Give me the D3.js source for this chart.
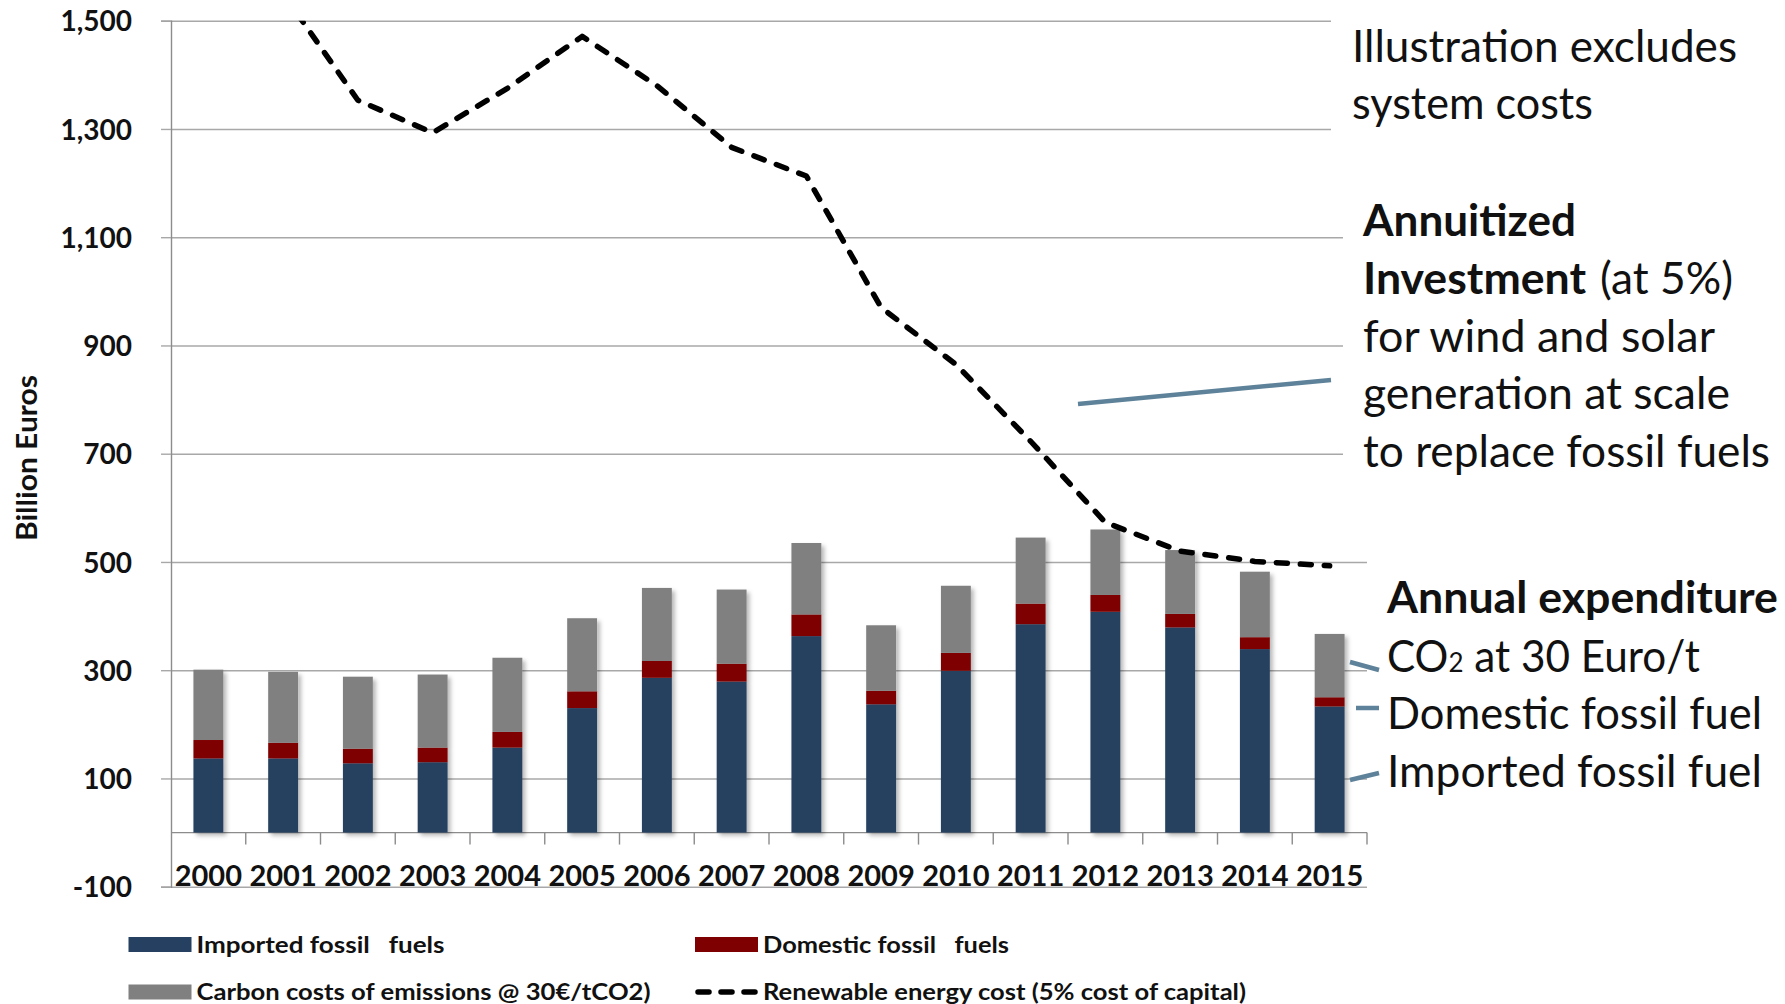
<!DOCTYPE html>
<html>
<head>
<meta charset="utf-8">
<script src="https://cdn.jsdelivr.net/npm/d3@7"></script>
<style>
  html, body { margin: 0; padding: 0; background: #fff; }
  svg { display: block; }
  text { font-family: Lato, "Open Sans", sans-serif; }
</style>
</head>
<body>
<svg id="chart" width="1785" height="1004"></svg>
<script>
// ---------------- DATA ----------------
const years = ["2000","2001","2002","2003","2004","2005","2006","2007","2008","2009","2010","2011","2012","2013","2014","2015"];
const importedFossil = [137,137,128,130,157,230,286,279,363,237,299,385,408,379,339,233];
const domesticFossil = [34,29,27,27,29,31,31,33,40,25,33,38,31,25,22,17];
const carbonCosts = [130,131,133,135,137,135,135,137,132,121,124,122,121,118,121,117];
const renewableCost = [null,1550,1353,1293,1375,1471,1380,1266,1213,970,865,723,573,520,501,493];
const yTickValues = [-100,100,300,500,700,900,1100,1300,1500];
const yTickLabels = ["-100","100","300","500","700","900","1,100","1,300","1,500"];
const seriesNames = ["Imported fossil   fuels","Domestic fossil   fuels","Carbon costs of emissions @ 30€/tCO2)","Renewable energy cost (5% cost of capital)"];
const yAxisTitle = "Billion Euros";

// ---------------- LAYOUT ----------------
const svg = d3.select("#chart");
const pLeft = 171, pRight = 1367, pTop = 20.7, pBottom = 886.7;
const colors = { imported: "#264061", domestic: "#7F0000", carbon: "#808080" };
const gridColor = "#A8A8A8", axisColor = "#8C8C8C", leaderColor = "#5E8299";

const x = d3.scaleBand().domain(years).range([pLeft, pRight]).paddingInner(0.6).paddingOuter(0.3);
const y = d3.scaleLinear().domain([-100, 1500]).range([pBottom, pTop]);

const defs = svg.append("defs");
const f = defs.append("filter").attr("id","shadow").attr("x","-30%").attr("y","-10%").attr("width","160%").attr("height","130%");
f.append("feDropShadow").attr("dx",3).attr("dy",3).attr("stdDeviation",2).attr("flood-color","#000").attr("flood-opacity",0.28);
defs.append("clipPath").attr("id","plotclip").append("rect")
  .attr("x", pLeft).attr("y", y(1500)).attr("width", pRight - pLeft).attr("height", pBottom - y(1500));

// gridlines
svg.append("g")
  .attr("transform", `translate(${pLeft},0)`)
  .call(d3.axisLeft(y).tickValues(yTickValues).tickSize(-(pRight - pLeft)).tickFormat(""))
  .call(g => g.select(".domain").remove())
  .call(g => g.selectAll("line").attr("stroke", gridColor).attr("stroke-width", 1.4));

// y axis with ticks and labels
svg.append("g")
  .attr("transform", `translate(${pLeft},0)`)
  .call(d3.axisLeft(y).tickValues(yTickValues).tickSize(10).tickPadding(29)
        .tickFormat((d, i) => yTickLabels[i]))
  .call(g => g.select(".domain").attr("stroke", axisColor).attr("stroke-width", 1.4))
  .call(g => g.selectAll("line").attr("stroke", gridColor).attr("stroke-width", 1.4))
  .call(g => g.selectAll("text").attr("fill", "#111").style("font-size", "28px")
        .style("font-weight", 700).attr("dy", "0.36em"));

// x axis at 0
const xAxisG = svg.append("g").attr("transform", `translate(0,${y(0)})`)
  .call(d3.axisBottom(x).tickSize(0).tickPadding(33))
  .call(g => g.select(".domain").attr("stroke", axisColor).attr("stroke-width", 1.4).attr("d", `M${pLeft},0H${pRight}`))
  .call(g => g.selectAll("text").attr("fill", "#111").style("font-size", "29px").style("font-weight", 700));
// category boundary ticks
const step = x.step();
const boundaries = years.map(d => x(d) - (step - x.bandwidth()) / 2).slice(1).concat([pRight]);
xAxisG.selectAll("line.bound").data(boundaries).join("line")
  .attr("class","bound").attr("x1", d => d).attr("x2", d => d).attr("y1", 0).attr("y2", 12)
  .attr("stroke", axisColor).attr("stroke-width", 1.4);

// stacked bars
const rows = years.map((yr, i) => ({ year: yr, imported: importedFossil[i], domestic: domesticFossil[i], carbon: carbonCosts[i] }));
const keys = ["imported","domestic","carbon"];
const stacked = d3.stack().keys(keys)(rows);
const barGroups = svg.append("g").selectAll("g.bar").data(rows).join("g")
  .attr("class","bar").attr("filter","url(#shadow)");
barGroups.selectAll("rect").data((d, i) => stacked.map(s => ({ key: s.key, v: s[i], year: d.year })))
  .join("rect")
  .attr("x", d => x(d.year)).attr("width", x.bandwidth())
  .attr("y", d => y(d.v[1])).attr("height", d => y(d.v[0]) - y(d.v[1]))
  .attr("fill", d => colors[d.key]);

// renewable line
const lineData = years.map((yr, i) => ({ year: yr, v: renewableCost[i] }));
svg.append("path").datum(lineData)
  .attr("clip-path","url(#plotclip)")
  .attr("fill","none").attr("stroke","#000").attr("stroke-width",5.5)
  .attr("stroke-dasharray","11,13").attr("stroke-linecap","round").attr("stroke-linejoin","round")
  .attr("d", d3.line().defined(d => d.v != null).x(d => x(d.year) + x.bandwidth()/2).y(d => y(d.v)));

// y axis title
svg.append("text").attr("transform","translate(37,458) rotate(-90)")
  .attr("text-anchor","middle").attr("fill","#111")
  .style("font-size","28px").style("font-weight",700).attr("textLength",166).attr("lengthAdjust","spacingAndGlyphs")
  .text(yAxisTitle);

// ---------------- ANNOTATIONS ----------------
svg.append("rect").attr("x",1331).attr("y",0).attr("width",460).attr("height",140).attr("fill","#fff");
svg.append("rect").attr("x",1343).attr("y",185).attr("width",450).attr("height",300).attr("fill","#fff");

function annot(txt, xx, yy, len, bold) {
  return svg.append("text").attr("x", xx).attr("y", yy).attr("fill","#111")
    .style("font-size","44px").style("font-weight", bold ? 700 : 400)
    .attr("textLength", len).attr("lengthAdjust","spacingAndGlyphs").text(txt);
}
annot("Illustration excludes", 1352, 62, 385, false);
annot("system costs", 1352, 119, 241, false);
annot("Annuitized", 1363, 236, 213, true);
annot("Investment", 1363, 294, 223, true);
annot("(at 5%)", 1600, 294, 133, false);
annot("for wind and solar", 1363, 352, 352, false);
annot("generation at scale", 1363, 409, 367, false);
annot("to replace fossil fuels", 1363, 467, 407, false);
annot("Annual expenditure", 1387, 613, 391, true);
const co2 = svg.append("text").attr("x",1387).attr("y",672).attr("fill","#111")
  .style("font-size","44px").attr("textLength",313).attr("lengthAdjust","spacingAndGlyphs");
co2.append("tspan").text("CO");
co2.append("tspan").style("font-size","27px").text("2");
co2.append("tspan").text(" at 30 Euro/t");
annot("Domestic fossil fuel", 1387, 729, 375, false);
annot("Imported fossil fuel", 1387, 787, 375, false);

// leader lines
const leaders = [
  [1078,404,1331,380],
  [1350,662,1379,670],
  [1356,708,1379,708],
  [1350,780,1379,773]
];
svg.append("g").selectAll("line").data(leaders).join("line")
  .attr("x1",d=>d[0]).attr("y1",d=>d[1]).attr("x2",d=>d[2]).attr("y2",d=>d[3])
  .attr("stroke",leaderColor).attr("stroke-width",4.5);

// ---------------- LEGEND ----------------
const legend = svg.append("g");
const legItems = [
  { name: seriesNames[0], type: "rect", color: colors.imported, x: 128.5, y: 944.5, len: 248 },
  { name: seriesNames[1], type: "rect", color: colors.domestic, x: 695, y: 944.5, len: 246 },
  { name: seriesNames[2], type: "rect", color: colors.carbon, x: 128.5, y: 992, len: 454 },
  { name: seriesNames[3], type: "line", color: "#000", x: 695, y: 992, len: 483 }
];
legItems.forEach(it => {
  if (it.type === "rect") {
    legend.append("rect").attr("x", it.x).attr("y", it.y - 7.5).attr("width", 63).attr("height", 15).attr("fill", it.color);
  } else {
    legend.append("line").attr("x1", it.x + 3).attr("x2", it.x + 60).attr("y1", it.y).attr("y2", it.y)
      .attr("stroke","#000").attr("stroke-width",5.5).attr("stroke-dasharray","11,12").attr("stroke-linecap","round");
  }
  legend.append("text").attr("x", it.x + 68).attr("y", it.y + 8).attr("fill","#111")
    .style("font-size","23px").style("font-weight",700).style("white-space","pre")
    .attr("textLength", it.len).attr("lengthAdjust","spacingAndGlyphs").text(it.name);
});
</script>
</body>
</html>
